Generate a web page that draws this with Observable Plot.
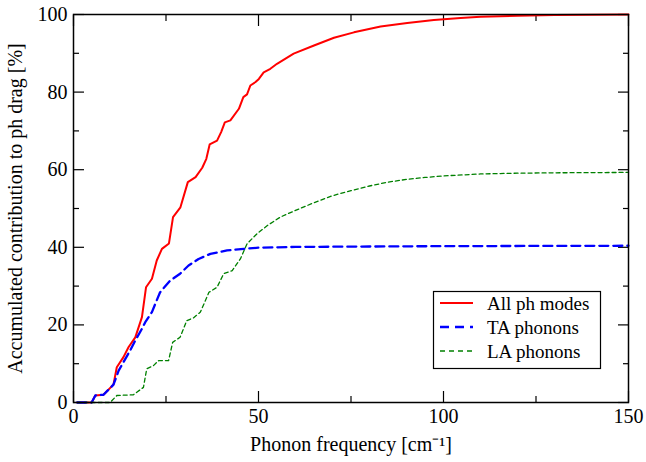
<!DOCTYPE html>
<html>
<head>
<meta charset="utf-8">
<script src="https://cdn.jsdelivr.net/npm/d3@7"></script>
<script src="https://cdn.jsdelivr.net/npm/@observablehq/plot@0.6"></script>
<style>
  html, body { margin: 0; padding: 0; background: #fff; }
  #wrap { position: relative; width: 646px; height: 462px; }
  #legend { position: absolute; left: 0; top: 0; }
</style>
</head>
<body>
<div id="wrap"></div>
<script>
// ---- data ----
const seriesNames = ["All ph modes", "TA phonons", "LA phonons"];
const seriesColors = ["#ff0000", "#0000ff", "#008000"];

const allX = [1, 4.9, 5.9, 8.1, 10.8, 11.7, 13.5, 14.9, 16.7, 18.5, 19.6, 21.2, 22.5, 23.9, 25.8, 26.9, 28.9, 30.9, 33, 34.8, 35.9, 36.8, 38.8, 39.9, 40.9, 42.4, 44.7, 45.9, 46.9, 47.8, 49.2, 50.1, 51.4, 53.2, 55, 59.5, 65, 70.4, 75.8, 83, 90.2, 97.4, 104.6, 110, 120, 130, 140, 150];
const allY = [0, 0, 1.8, 2, 4.6, 9.1, 11.7, 14.3, 16.8, 22, 29.7, 31.9, 36.6, 39.6, 41, 47.8, 50.3, 56.8, 58.1, 60.5, 62.8, 66.5, 67.5, 69.7, 72.2, 72.7, 75.7, 78.7, 79.4, 81.7, 82.6, 83.4, 85.1, 86, 87.3, 89.9, 92, 94, 95.4, 96.9, 97.8, 98.6, 99.1, 99.4, 99.7, 99.85, 99.95, 100];

const taX = [1, 4.9, 5.9, 8.1, 10.8, 12.2, 13.5, 15.3, 16.7, 18.5, 19.4, 21.2, 22.3, 23.4, 26.1, 28.8, 31.1, 33.8, 37, 41.5, 46, 50, 55, 60, 80, 100, 150];
const taY = [0, 0, 1.8, 2, 4.6, 8.2, 10.4, 13.4, 16, 19, 20.7, 23.3, 25.9, 28.4, 31.4, 33.2, 35.3, 37, 38.3, 39.2, 39.6, 39.9, 40, 40.1, 40.2, 40.3, 40.4];

const laX = [1, 9.9, 11.7, 16.2, 18.9, 19.8, 21.6, 23, 25.7, 26.8, 28.8, 30.6, 32.4, 34.3, 36.6, 38.8, 40.6, 42.9, 45.1, 46.9, 49.6, 52.4, 55.9, 60, 65, 70, 75, 80, 85, 90, 95, 100, 110, 120, 130, 150];
const laY = [0, 0, 1.8, 2, 3.9, 8.7, 9.5, 10.8, 10.8, 15.5, 16.8, 21.1, 21.8, 23.3, 28.4, 29.7, 33.2, 34, 37, 40.9, 43.5, 45.6, 47.8, 49.5, 51.5, 53.3, 54.6, 55.8, 56.8, 57.5, 58, 58.4, 58.9, 59.1, 59.2, 59.3];

const xMajor = [0, 50, 100, 150];
const xMinor = [25, 75, 125];
const yMajor = [0, 20, 40, 60, 80, 100];
const yMinor = [10, 30, 50, 70, 90];

const xLabel = "Phonon frequency [cm⁻¹]";
const yLabel = "Accumulated contribution to ph drag [%]";

// ---- build ----
const toRows = (xs, ys) => xs.map((x, i) => ({x, y: ys[i]}));
const all = toRows(allX, allY);
const ta = toRows(taX, taY);
const la = toRows(laX, laY);

const styles = [
  {strokeWidth: 2, strokeDasharray: null},
  {strokeWidth: 2.3, strokeDasharray: "9,5"},
  {strokeWidth: 1.3, strokeDasharray: "4,3"}
];

const FONT = "Liberation Serif";

const chart = Plot.plot({
  width: 646,
  height: 462,
  marginLeft: 73,
  marginRight: 18,
  marginTop: 14,
  marginBottom: 60,
  style: {background: "#fff", color: "#000"},
  x: {domain: [0, 150]},
  y: {domain: [0, 100]},
  marks: [
    Plot.axisX(xMajor, {anchor: "bottom", tickSize: -11, tickPadding: 17, tickFormat: d => d, label: xLabel, labelAnchor: "center", labelArrow: "none", labelOffset: 48, strokeWidth: 1.2, fontSize: 20, fontFamily: FONT}),
    Plot.axisX(xMinor, {anchor: "bottom", tickSize: -6, text: null, label: null, strokeWidth: 1.2}),
    Plot.axisX(xMajor, {anchor: "top", tickSize: -11, text: null, label: null, strokeWidth: 1.2}),
    Plot.axisX(xMinor, {anchor: "top", tickSize: -6, text: null, label: null, strokeWidth: 1.2}),
    Plot.axisY(yMajor, {anchor: "left", tickSize: -11, tickPadding: 17, tickFormat: d => d, label: yLabel, labelAnchor: "center", labelArrow: "none", labelOffset: 66, strokeWidth: 1.2, fontSize: 20, fontFamily: FONT}),
    Plot.axisY(yMinor, {anchor: "left", tickSize: -6, text: null, label: null, strokeWidth: 1.2}),
    Plot.axisY(yMajor, {anchor: "right", tickSize: -11, text: null, label: null, strokeWidth: 1.2}),
    Plot.axisY(yMinor, {anchor: "right", tickSize: -6, text: null, label: null, strokeWidth: 1.2}),
    Plot.line(all, {x: "x", y: "y", stroke: seriesColors[0], strokeWidth: styles[0].strokeWidth}),
    Plot.line(ta, {x: "x", y: "y", stroke: seriesColors[1], strokeWidth: styles[1].strokeWidth, strokeDasharray: styles[1].strokeDasharray}),
    Plot.line(la, {x: "x", y: "y", stroke: seriesColors[2], strokeWidth: styles[2].strokeWidth, strokeDasharray: styles[2].strokeDasharray}),
    Plot.frame({stroke: "#000", strokeWidth: 1.5})
  ]
});

// force the serif family on the SVG and every text node
d3.select(chart).attr("font-family", FONT).attr("font-size", 20);
d3.select(chart).selectAll("g[aria-label$='axis'], g[aria-label*='label']").attr("font-family", FONT).attr("font-size", 20);
d3.select(chart).selectAll("text").attr("font-family", FONT);

const wrap = document.getElementById("wrap");
wrap.appendChild(chart);

// ---- legend overlay (inside plot area, lower right) ----
const lg = d3.select(wrap).append("svg")
  .attr("id", "legend")
  .attr("width", 646).attr("height", 462)
  .attr("font-family", FONT);
lg.append("rect")
  .attr("x", 433.5).attr("y", 291.5).attr("width", 167).attr("height", 77)
  .attr("fill", "#fff").attr("stroke", "#000").attr("stroke-width", 1.2);
seriesNames.forEach((name, i) => {
  const cy = 303 + i * 24;
  lg.append("line")
    .attr("x1", 440).attr("x2", 473).attr("y1", cy).attr("y2", cy)
    .attr("stroke", seriesColors[i])
    .attr("stroke-width", styles[i].strokeWidth)
    .attr("stroke-dasharray", i === 1 ? "9,6" : (i === 2 ? "5,4" : null));
  lg.append("text")
    .attr("x", 487).attr("y", cy)
    .attr("dy", "0.35em")
    .attr("font-family", FONT)
    .attr("font-size", 19)
    .text(name);
});
</script>
</body>
</html>
